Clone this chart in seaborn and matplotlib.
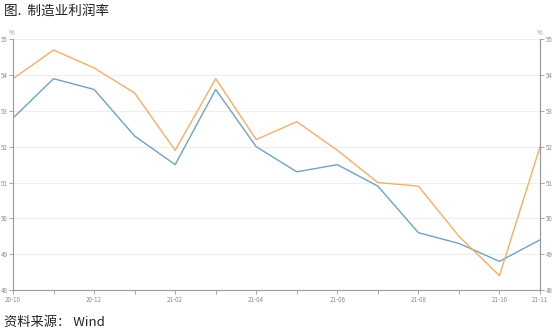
import matplotlib
matplotlib.use("Agg")
import matplotlib.pyplot as plt
import seaborn as sns
import pandas as pd

months = ["20-10", "20-11", "20-12", "21-01", "21-02", "21-03", "21-04",
          "21-05", "21-06", "21-07", "21-08", "21-09", "21-10", "21-11"]
series_blue = [52.8, 53.9, 53.6, 52.3, 51.5, 53.6, 52.0,
               51.3, 51.5, 50.9, 49.6, 49.3, 48.8, 49.4]
series_orange = [53.9, 54.7, 54.2, 53.5, 51.9, 53.9, 52.2,
                 52.7, 51.9, 51.0, 50.9, 49.5, 48.4, 52.0]
labeled_months = ["20-10", "20-12", "21-02", "21-04", "21-06", "21-08", "21-10", "21-11"]
y_ticks = [48, 49, 50, 51, 52, 53, 54, 55]

sns.set_theme(style="white")
plt.rcParams["font.family"] = ["Noto Sans CJK SC", "DejaVu Sans"]

df = pd.DataFrame({
    "idx": list(range(len(months))) * 2,
    "value": series_blue + series_orange,
    "series": ["blue"] * len(months) + ["orange"] * len(months),
})

fig = plt.figure(figsize=(5.56, 3.32), dpi=100)
ax = fig.add_axes([13 / 556, 1 - 290 / 332, 527 / 556, 250.7 / 332])

sns.lineplot(data=df, x="idx", y="value", hue="series",
             palette={"blue": "#6ea3c6", "orange": "#f8ad63"},
             linewidth=1.0, legend=False, ax=ax)

ax.set_xlim(0, len(months) - 1)
ax.set_ylim(48, 55)
ax.set_yticks(y_ticks)
ax.set_yticklabels([str(t) for t in y_ticks])
ax.yaxis.grid(True, color="#eeeeee", linewidth=0.8)
ax.set_axisbelow(True)

ax.set_xticks([months.index(m) for m in labeled_months])
ax.set_xticklabels(labeled_months)
ax.set_xticks(range(len(months)), minor=True)
ax.set_xlabel("")
ax.set_ylabel("")

grey = "#999999"
txt = "#8c8c8c"
for side in ["left", "bottom", "right"]:
    ax.spines[side].set_visible(True)
    ax.spines[side].set_color(grey)
    ax.spines[side].set_linewidth(0.8)
ax.spines["top"].set_visible(False)

ax.tick_params(axis="x", which="both", direction="out", length=3, width=0.6,
               color=grey, labelsize=4.5, labelcolor=txt, pad=1.5, bottom=True)
ax.tick_params(axis="y", which="both", direction="out", length=3, width=0.6,
               color=grey, labelsize=4.5, labelcolor=txt, pad=1, left=True)

ax2 = ax.twinx()
ax2.set_ylim(48, 55)
ax2.set_yticks(y_ticks)
ax2.set_yticklabels([str(t) for t in y_ticks])
for side in ["left", "bottom", "top"]:
    ax2.spines[side].set_visible(False)
ax2.spines["right"].set_color(grey)
ax2.spines["right"].set_linewidth(0.8)
ax2.tick_params(axis="y", direction="out", length=3, width=0.6, color=grey,
                labelsize=4.5, labelcolor=txt, pad=1, right=True)

fig.text(12 / 556, 1 - 33 / 332, "%", fontsize=4.5, color=txt, ha="center", va="center")
fig.text(540 / 556, 1 - 33 / 332, "%", fontsize=4.5, color=txt, ha="center", va="center")

fig.text(4 / 556, 1 - 11 / 332, "图.  制造业利润率", fontsize=9.8, color="#222222",
         ha="left", va="center")
fig.text(4 / 556, 1 - 322 / 332, "资料来源： Wind", fontsize=9.5, color="#222222",
         ha="left", va="center")

fig.savefig("out.png", dpi=100)
